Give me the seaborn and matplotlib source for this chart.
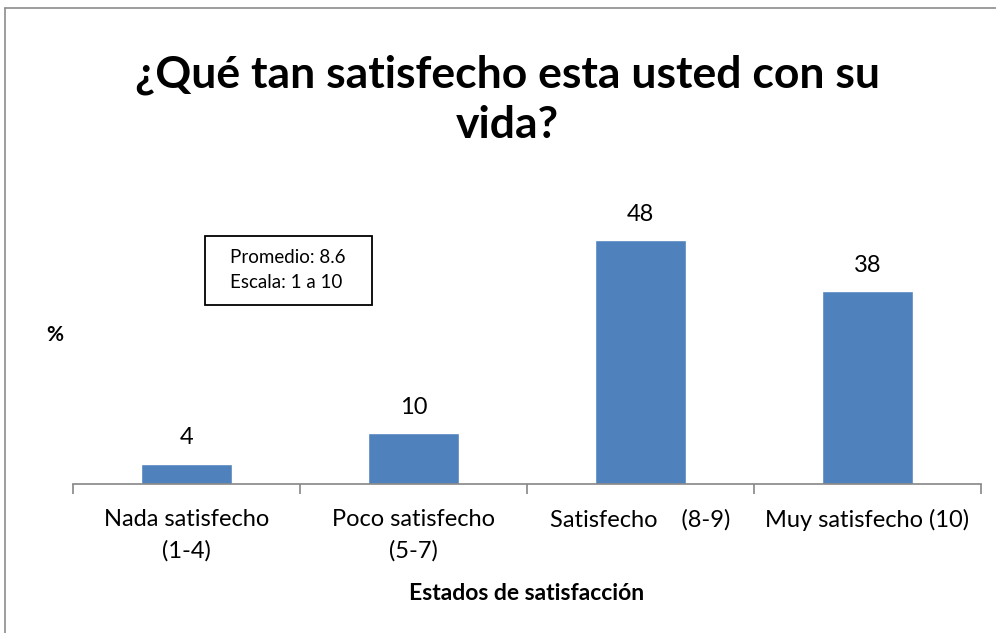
import matplotlib
matplotlib.use('Agg')
import matplotlib.pyplot as plt
import seaborn as sns
import pandas as pd
from matplotlib.patches import Rectangle
from matplotlib.lines import Line2D

# =========================
# DATOS
# =========================
categorias = ['Nada satisfecho\n(1-4)', 'Poco satisfecho\n(5-7)',
              'Satisfecho    (8-9)', 'Muy satisfecho (10)']
porcentajes = [4, 10, 48, 38]
titulo = '¿Qué tan satisfecho esta usted con su\nvida?'
nota = 'Promedio: 8.6\nEscala: 1 a 10'

df = pd.DataFrame({'estado': categorias, 'pct': porcentajes})

# =========================
# ESTILO
# =========================
sns.set_style('white')
plt.rcParams['font.family'] = ['Lato', 'DejaVu Sans']
plt.rcParams['text.color'] = 'black'
plt.rcParams['xtick.color'] = 'black'
plt.rcParams['axes.labelcolor'] = 'black'

fig = plt.figure(figsize=(9.96, 6.33), dpi=100)
ax = fig.add_axes([73 / 996, 1 - 484 / 633, 908 / 996, 305 / 633])

sns.barplot(data=df, x='estado', y='pct', color='#4F81BD', saturation=1,
            width=0.4, ax=ax)

ax.set_ylim(0, 60)
ax.set_xlim(-0.5, 3.5)

for i, v in enumerate(porcentajes):
    ax.text(i, v + 3.0, str(v), ha='center', va='bottom', fontsize=17)

# ejes
for s in ['top', 'right', 'left']:
    ax.spines[s].set_visible(False)
ax.spines['bottom'].set_color('#868686')
ax.spines['bottom'].set_linewidth(1.2)
ax.set_yticks([])
ax.set_xticks([-0.5, 0.5, 1.5, 2.5, 3.5], minor=True)
ax.tick_params(axis='x', which='minor', length=7, color='#868686', width=1.2,
               direction='out', bottom=True)
ax.tick_params(axis='x', which='major', length=0, labelsize=17, pad=18)
for lbl in ax.get_xticklabels():
    lbl.set_linespacing(1.55)

ax.set_xlabel('Estados de satisfacción', fontsize=16.5, fontweight='bold',
              labelpad=16)
ax.set_ylabel('')

fig.text(55 / 996, 1 - 335 / 633, '%', fontsize=15, fontweight='bold',
         ha='center', va='center')

fig.text(507 / 996, 1 - 100 / 633, titulo, fontsize=32, fontweight='bold',
         ha='center', va='center', linespacing=1.3)

# caja de nota
fig.patches.append(Rectangle((205 / 996, 1 - 305 / 633), 167 / 996, 69 / 633,
                             transform=fig.transFigure, fill=False,
                             edgecolor='black', linewidth=1.3))
fig.text(230 / 996, 1 - 270 / 633, nota, fontsize=13.5, ha='left', va='center',
         linespacing=1.55)

# marco del grafico (solo izquierda y arriba visibles)
fig.lines.append(Line2D([5 / 996, 5 / 996], [0, 1 - 8 / 633],
                        transform=fig.transFigure, color='#8c8c8c', lw=1.2))
fig.lines.append(Line2D([5 / 996, 1], [1 - 8 / 633, 1 - 8 / 633],
                        transform=fig.transFigure, color='#8c8c8c', lw=1.2))

fig.savefig('out.png', dpi=100)
